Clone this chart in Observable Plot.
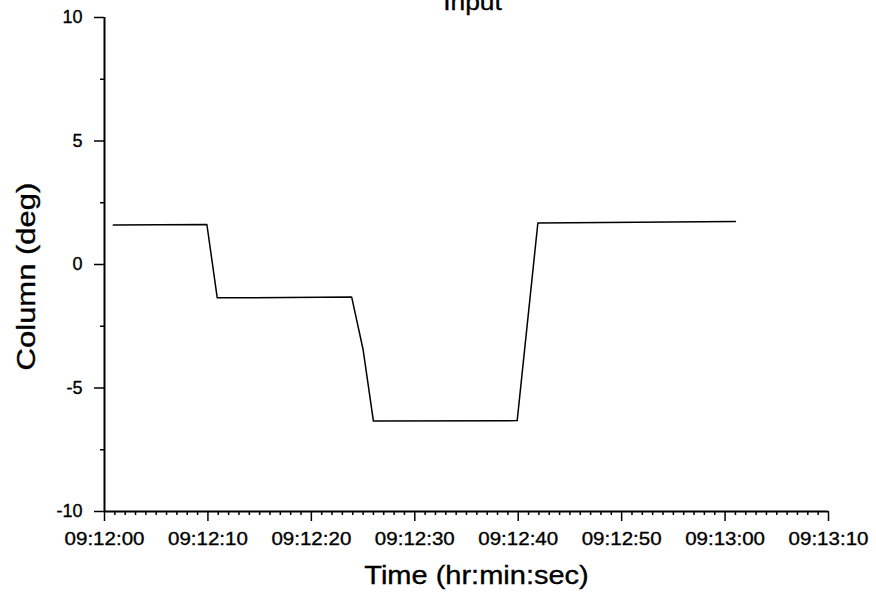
<!DOCTYPE html>
<html><head><meta charset="utf-8">
<script src="https://cdn.jsdelivr.net/npm/d3@7"></script>
<script src="https://cdn.jsdelivr.net/npm/@observablehq/plot@0.6"></script>
<style>body{margin:0;background:#fff} svg{display:block} svg text{stroke:#000;stroke-width:0.35px}</style>
</head><body><div id="chart"></div>
<script>
const title = "Input";
const xLabel = "Time (hr:min:sec)";
const yLabel = "Column (deg)";
// seconds after 09:12:00
const seconds = [0.85, 9.9, 10.9, 23.9, 25.0, 26.0, 39.9, 41.9, 61.0];
const values  = [1.60, 1.62, -1.35, -1.32, -3.44, -6.34, -6.32, 1.68, 1.74];
const yMajorTicks = [-10, -5, 0, 5, 10];
const yMinorTicks = [-7.5, -2.5, 2.5, 7.5];
const xMajorSeconds = [0, 10, 20, 30, 40, 50, 60, 70];
const xMinorSeconds = d3.range(1, 70).filter(s => s % 10 !== 0);

const base = Date.UTC(2000, 0, 1, 9, 12, 0);
const t = s => new Date(base + s * 1000);
const data = seconds.map((s, i) => ({time: t(s), value: values[i]}));
const timeFmt = d3.utcFormat("%H:%M:%S");

const chart = Plot.plot({
  width: 876, height: 594,
  marginLeft: 104, marginRight: 48, marginTop: 17, marginBottom: 83,
  style: {fontFamily: "'Liberation Sans', Arial, sans-serif", background: "#fff", color: "#000", overflow: "visible"},
  x: {type: "utc", domain: [t(0), t(70)]},
  y: {domain: [-10, 10]},
  marks: [
    Plot.axisY(yMinorTicks, {tickSize: 4, text: null, strokeWidth: 1.5, label: null}),
    Plot.axisY(yMajorTicks, {tickSize: 10, tickPadding: 12, fontSize: 18, strokeWidth: 1.5, label: null,
      tickFormat: d => String(d)}),
    Plot.axisX(xMinorSeconds.map(t), {tickSize: 4, text: null, strokeWidth: 1.5, label: null}),
    Plot.axisX(xMajorSeconds.map(t), {tickSize: 10, tickPadding: 10, fontSize: 18.5, strokeWidth: 1.5,
      tickFormat: timeFmt, label: null}),
    Plot.ruleX([t(0)], {strokeWidth: 2}),
    Plot.ruleY([-10], {strokeWidth: 2}),
    Plot.line(data, {x: "time", y: "value", stroke: "#000", strokeWidth: 1.5}),
    Plot.text([title], {frameAnchor: "top", textAnchor: "middle", lineAnchor: "bottom", dy: -8, dx: 6, fontSize: 24}),
    Plot.text([xLabel], {frameAnchor: "bottom", textAnchor: "middle", lineAnchor: "bottom", dy: 72, dx: 10, fontSize: 25}),
    Plot.text([yLabel], {frameAnchor: "left", textAnchor: "middle", lineAnchor: "middle", rotate: -90, dx: -78, dy: 12, fontSize: 25})
  ]
});
document.getElementById("chart").append(chart);

const factors = new Map([[title, 1.1], [xLabel, 1.16], [yLabel, 1.24]]);
d3.select(chart).selectAll("text").each(function() {
  const s = this.textContent;
  const f = /^\d\d:\d\d:\d\d$/.test(s) ? 1.11 : factors.get(s);
  if (!f) return;
  const w = this.getComputedTextLength();
  this.setAttribute("textLength", (w * f).toFixed(1));
  this.setAttribute("lengthAdjust", "spacingAndGlyphs");
});
</script>
</body></html>
